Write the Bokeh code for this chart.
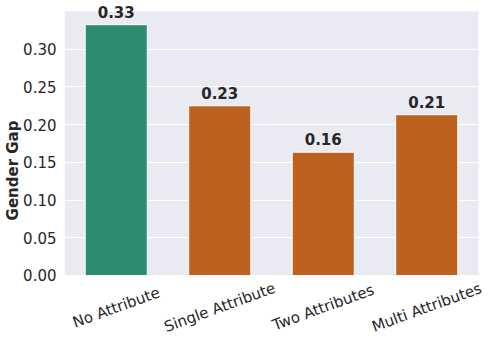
from bokeh.plotting import figure
from bokeh.models import ColumnDataSource, LabelSet, FixedTicker, CustomJSTickFormatter, Range1d, BoxAnnotation
from bokeh.core.properties import value
from bokeh.embed import file_html
from bokeh.resources import INLINE

categories = ["No Attribute", "Single Attribute", "Two Attributes", "Multi Attributes"]
gaps = [0.3325, 0.225, 0.1635, 0.2132]
labels = ["0.33", "0.23", "0.16", "0.21"]
colors = ["#2d8c6f", "#bd611e", "#bd611e", "#bd611e"]
yticks = [0.0, 0.05, 0.10, 0.15, 0.20, 0.25, 0.30]
y_max = 0.35

idx = list(range(len(categories)))
zeros = [0.0] * len(categories)
src = ColumnDataSource(dict(x=idx, cat=categories, gap=gaps, lab=labels, color=colors, zero=zeros))

# frame spans the full height / to the right edge; shaded axes area is drawn as a box
p = figure(x_range=Range1d(-0.5, 3.5773), y_range=Range1d(-0.0862, 0.3646),
           width=486, height=340, output_backend="svg", toolbar_location=None,
           min_border_left=64, min_border_right=0, min_border_top=0, min_border_bottom=0)
p.background_fill_color = "white"
p.border_fill_color = "white"
p.outline_line_color = None

p.add_layout(BoxAnnotation(bottom=0, top=y_max, right=len(categories) - 0.5,
                           fill_color="#eaeaf2", fill_alpha=1, line_color=None, level="image"))

p.vbar(x="x", top="gap", width=0.6, source=src, fill_color="color",
       line_color="white", line_width=1)

ls = LabelSet(x="x", y="gap", text="lab", source=src, text_align="center",
              text_baseline="alphabetic", y_offset=7, text_font_size="15px",
              text_font_style="bold", text_color="#262626", text_font=value("DejaVu Sans"))
p.add_layout(ls)

p.text(x="x", y="zero", text="cat", source=src, text_align="center",
       text_baseline="middle", y_offset=32, angle=0.35,
       text_font_size="15px", text_color="#262626", text_font=value("DejaVu Sans"))

p.xgrid.grid_line_color = None
p.ygrid.grid_line_color = "white"
p.ygrid.grid_line_width = 1.2
p.ygrid.bounds = (-0.5, y_max)
p.xaxis.visible = False

p.yaxis.axis_line_color = None
p.yaxis.major_tick_line_color = None
p.yaxis.minor_tick_line_color = None
p.yaxis.major_tick_out = 0
p.yaxis.major_tick_in = 0
p.yaxis.minor_tick_out = 0
p.yaxis.major_label_text_font = "DejaVu Sans"
p.yaxis.major_label_text_font_size = "15px"
p.yaxis.major_label_text_color = "#262626"
p.yaxis.ticker = FixedTicker(ticks=yticks)
p.yaxis.formatter = CustomJSTickFormatter(code="return tick.toFixed(2);")
p.yaxis.axis_label = "Gender Gap"
p.yaxis.axis_label_text_font = "DejaVu Sans"
p.yaxis.axis_label_text_font_size = "15px"
p.yaxis.axis_label_text_font_style = "bold"
p.yaxis.axis_label_text_color = "#262626"
p.yaxis.axis_label_standoff = -2
p.yaxis.major_label_standoff = 8

open("out.html", "w").write(file_html(p, INLINE))
